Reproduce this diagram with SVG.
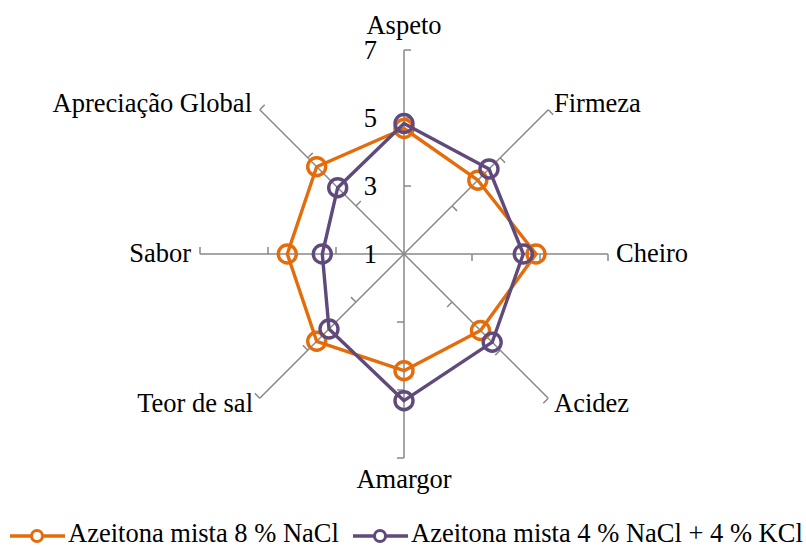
<svg xmlns="http://www.w3.org/2000/svg" xmlns:xlink="http://www.w3.org/1999/xlink" width="806" height="547" viewBox="0 0 806 547">
<style>
text{font-family:"Liberation Serif","Times New Roman",serif;font-size:26.5px;fill:#000}
.ax{fill:none;stroke:#898989;stroke-width:1.5}
.s1{fill:none;stroke:#E46C0A;stroke-width:3.4;stroke-linejoin:round}
.s2{fill:none;stroke:#604A7B;stroke-width:3.4;stroke-linejoin:round}
.m1{fill:none;stroke:#E46C0A;stroke-width:3.4}
.m2{fill:none;stroke:#604A7B;stroke-width:3.4}
.lm1{fill:#fff;stroke:#E46C0A;stroke-width:3}
.lm2{fill:#fff;stroke:#604A7B;stroke-width:3}
</style>
<defs>
<path id="axis" class="ax" d="M404 254V50M404 50h7M404 118h7M404 186h7"/>
</defs>
<rect width="806" height="547" fill="#fff"/>
<g id="axes">
<use xlink:href="#axis"/>
<use xlink:href="#axis" transform="rotate(45 404 254)"/>
<use xlink:href="#axis" transform="rotate(90 404 254)"/>
<use xlink:href="#axis" transform="rotate(135 404 254)"/>
<use xlink:href="#axis" transform="rotate(180 404 254)"/>
<use xlink:href="#axis" transform="rotate(225 404 254)"/>
<use xlink:href="#axis" transform="rotate(270 404 254)"/>
<use xlink:href="#axis" transform="rotate(315 404 254)"/>
</g>
<g id="scale" text-anchor="end">
<text x="377" y="59">7</text>
<text x="377" y="127">5</text>
<text x="377" y="195">3</text>
<text x="377" y="263">1</text>
</g>
<g id="series-nacl">
<polygon class="s1" points="404,128.5 477.8,180.2 536,254 480.5,330.5 404,370.7 316.7,341.3 287.3,254 316.7,166.7"/>
<circle class="m1" cx="404" cy="128.5" r="9"/>
<circle class="m1" cx="477.8" cy="180.2" r="9"/>
<circle class="m1" cx="536" cy="254" r="9"/>
<circle class="m1" cx="480.5" cy="330.5" r="9"/>
<circle class="m1" cx="404" cy="370.7" r="9"/>
<circle class="m1" cx="316.7" cy="341.3" r="9"/>
<circle class="m1" cx="287.3" cy="254" r="9"/>
<circle class="m1" cx="316.7" cy="166.7" r="9"/>
</g>
<g id="series-kcl">
<polygon class="s2" points="404,123.5 489,169 523.3,254 492.2,342.2 404,400.7 329,329 322.3,254 337.7,187.7"/>
<circle class="m2" cx="404" cy="123.5" r="9"/>
<circle class="m2" cx="489" cy="169" r="9"/>
<circle class="m2" cx="523.3" cy="254" r="9"/>
<circle class="m2" cx="492.2" cy="342.2" r="9"/>
<circle class="m2" cx="404" cy="400.7" r="9"/>
<circle class="m2" cx="329" cy="329" r="9"/>
<circle class="m2" cx="322.3" cy="254" r="9"/>
<circle class="m2" cx="337.7" cy="187.7" r="9"/>
</g>
<g id="labels">
<text x="404" y="34" text-anchor="middle">Aspeto</text>
<text x="554" y="112">Firmeza</text>
<text x="616" y="262">Cheiro</text>
<text x="554" y="412">Acidez</text>
<text x="404" y="488" text-anchor="middle">Amargor</text>
<text x="253" y="412" text-anchor="end">Teor de sal</text>
<text x="191" y="262" text-anchor="end">Sabor</text>
<text x="252" y="112" text-anchor="end">Apreciação Global</text>
</g>
<g id="legend">
<line class="s1" x1="10" y1="536" x2="65" y2="536"/>
<circle class="lm1" cx="37" cy="536" r="5.5"/>
<text x="68" y="542">Azeitona mista 8 % NaCl</text>
<line class="s2" x1="353" y1="536" x2="408" y2="536"/>
<circle class="lm2" cx="380" cy="536" r="5.5"/>
<text x="411" y="542">Azeitona mista 4 % NaCl + 4 % KCl</text>
</g>
</svg>
